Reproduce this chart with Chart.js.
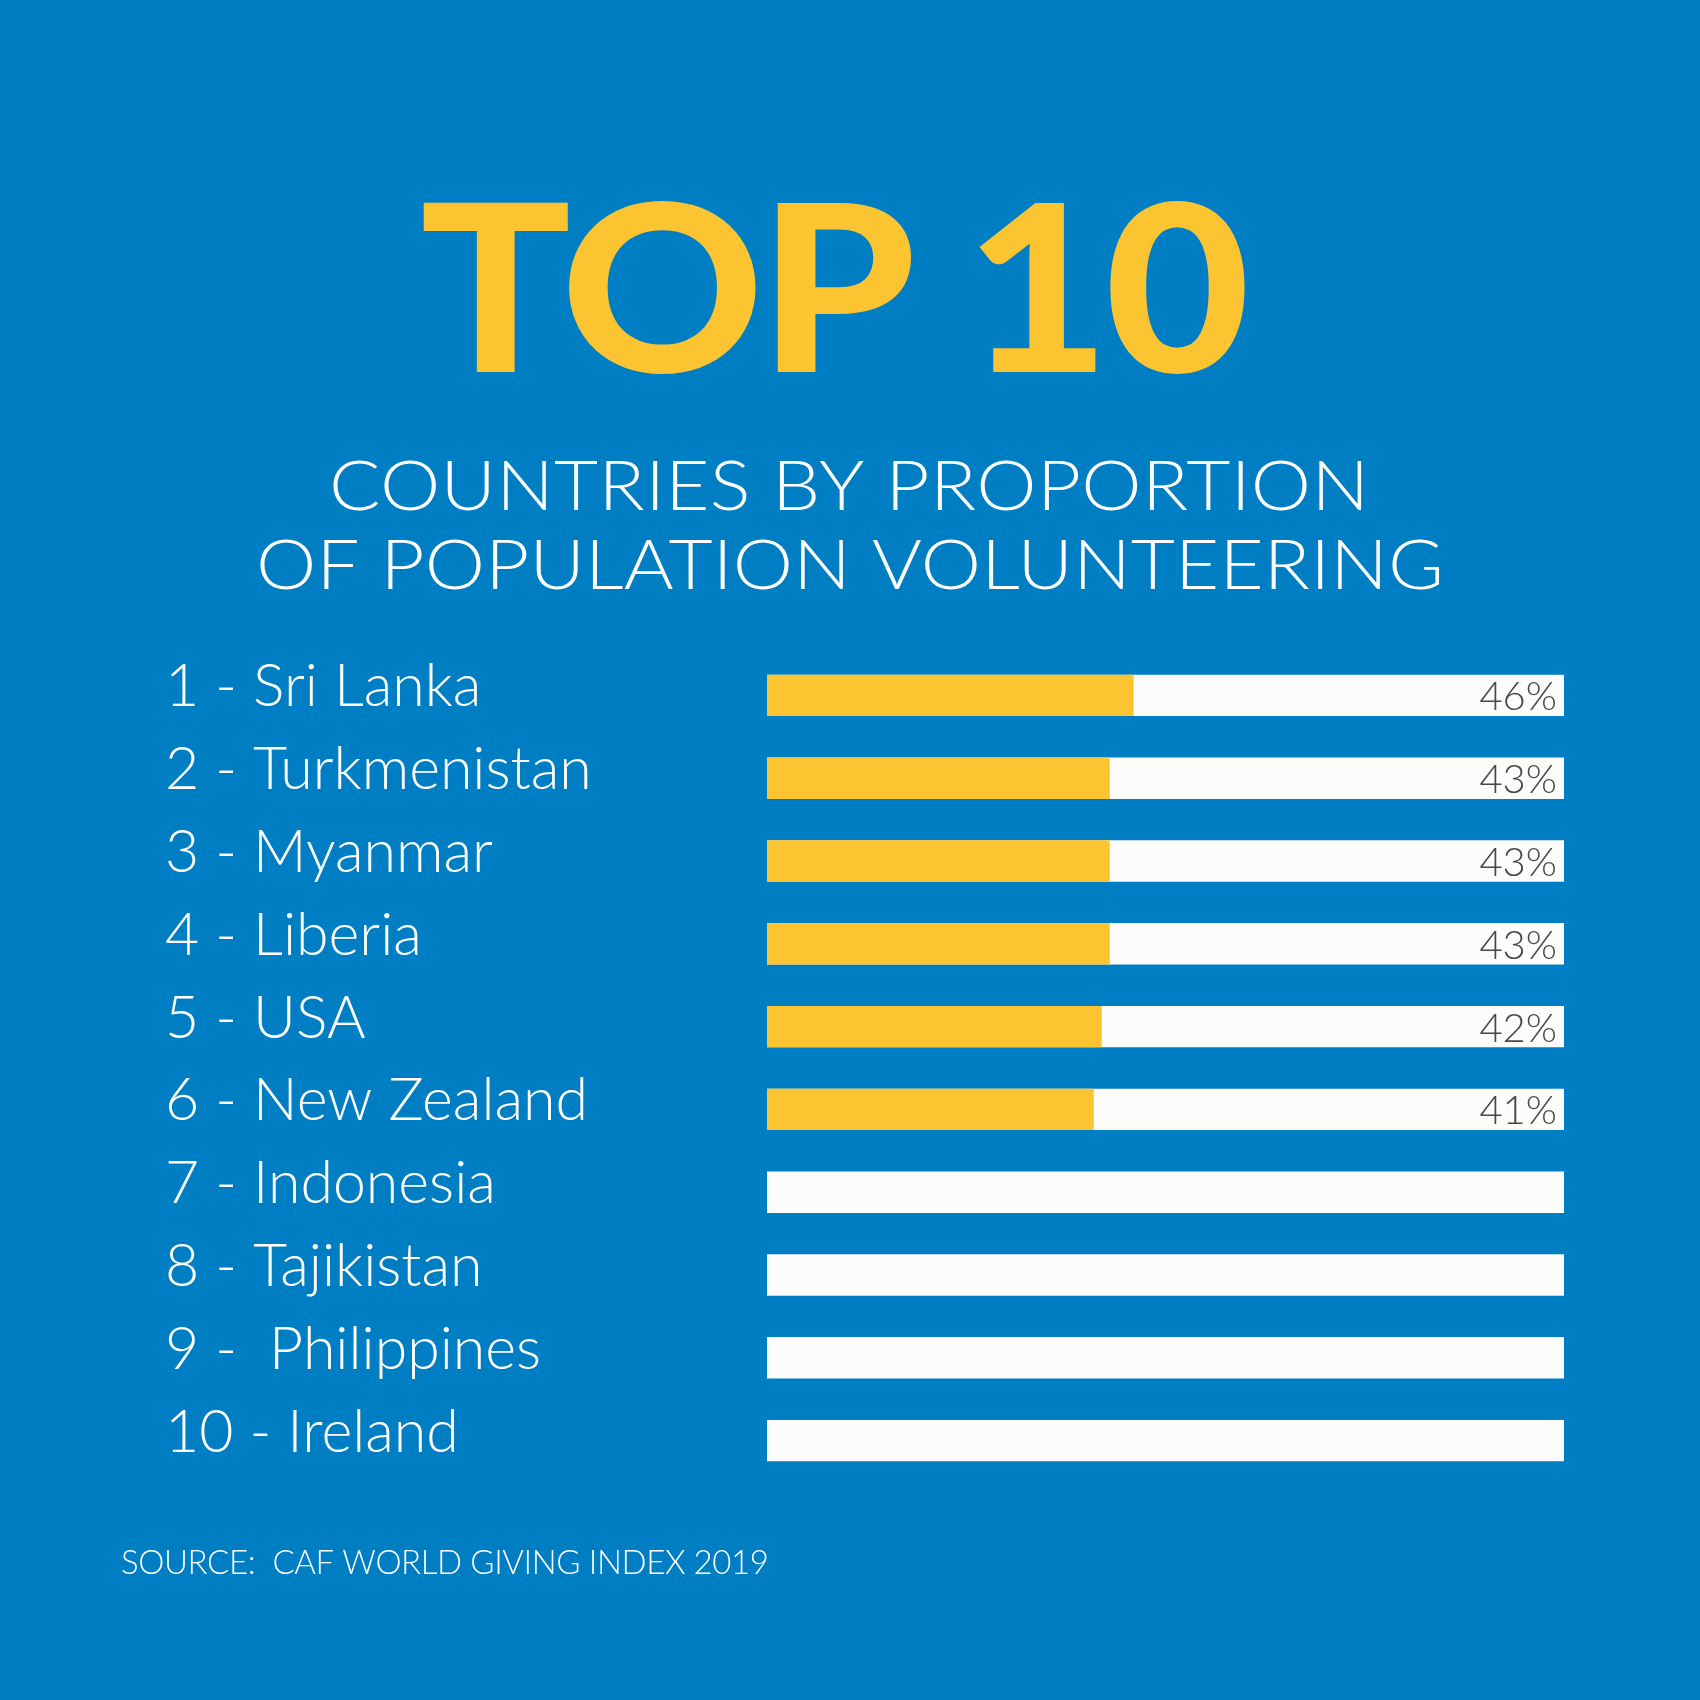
<!DOCTYPE html>
<html>
<head>
<meta charset="utf-8">
<script src="https://cdn.jsdelivr.net/npm/chart.js@4/dist/chart.umd.min.js"></script>
<style>
    html, body { margin: 0; padding: 0; background: #007ec3; }
    #wrap { width: 1700px; height: 1700px; }
</style>
</head>
<body>
<div id="wrap"><canvas id="chart" width="1700" height="1700"></canvas></div>
<script>
// Data read from the infographic
const countries = [
    '1 - Sri Lanka', '2 - Turkmenistan', '3 - Myanmar', '4 - Liberia', '5 - USA',
    '6 - New Zealand', '7 - Indonesia', '8 - Tajikistan', '9 -  Philippines', '10 - Ireland'
];
const volunteering = [46, 43, 43, 43, 42, 41, null, null, null, null];
const trackValues = [100, 100, 100, 100, 100, 100, 100, 100, 100, 100];
const valueLabels = ['46%', '43%', '43%', '43%', '42%', '41%', '', '', '', ''];

const BLUE = '#007ec3';
const YELLOW = '#fcc431';
const TRACK = '#fcfcfa';

// Draw a line of text fitted to a given ink width (stretch + letter spacing)
function drawSpaced(ctx, text, left, baseline, font, width, color, stretch) {
    ctx.save();
    ctx.font = font;
    ctx.letterSpacing = '0px';
    const w = ctx.measureText(text).width;
    const ls = (width / stretch - w) / (text.length - 1);
    ctx.letterSpacing = ls + 'px';
    ctx.fillStyle = color;
    ctx.textAlign = 'left';
    ctx.textBaseline = 'alphabetic';
    ctx.translate(left, baseline);
    ctx.scale(stretch, 1);
    ctx.fillText(text, 0, 0);
    ctx.restore();
}

const background = {
    id: 'background',
    beforeDraw(chart) {
        const ctx = chart.ctx;
        ctx.save();
        ctx.fillStyle = BLUE;
        ctx.fillRect(0, 0, chart.width, chart.height);
        ctx.restore();
    }
};

const headings = {
    id: 'headings',
    afterDraw(chart) {
        const ctx = chart.ctx;
        drawSpaced(ctx, 'TOP 10', 420, 372, '900 232px Lato', 830, YELLOW, 1.08);
        drawSpaced(ctx, 'COUNTRIES BY PROPORTION', 329, 510, '300 68px Lato', 1040, '#ffffff', 1.12);
        drawSpaced(ctx, 'OF POPULATION VOLUNTEERING', 256, 589, '300 68px Lato', 1188, '#ffffff', 1.12);
        drawSpaced(ctx, 'SOURCE:  CAF WORLD GIVING INDEX 2019', 121, 1574, '300 33px Lato', 648, '#ffffff', 1.0);
    }
};

const valueText = {
    id: 'valueText',
    afterDatasetsDraw(chart) {
        const ctx = chart.ctx;
        const meta = chart.getDatasetMeta(0);
        ctx.save();
        ctx.font = '300 40px Lato';
        ctx.fillStyle = '#474747';
        ctx.textAlign = 'right';
        ctx.textBaseline = 'middle';
        meta.data.forEach((bar, i) => {
            if (valueLabels[i]) {
                ctx.fillText(valueLabels[i], chart.chartArea.right - 7, bar.y + 2);
            }
        });
        ctx.restore();
    }
};

new Chart(document.getElementById('chart'), {
    type: 'bar',
    data: {
        labels: countries,
        datasets: [{
            label: 'Volunteering',
            data: volunteering,
            backgroundColor: YELLOW,
            grouped: false,
            order: 0
        }, {
            label: 'Track',
            data: trackValues,
            backgroundColor: TRACK,
            grouped: false,
            order: 1
        }]
    },
    options: {
        indexAxis: 'y',
        responsive: false,
        animation: false,
        devicePixelRatio: 1,
        categoryPercentage: 1,
        barPercentage: 0.5,
        layout: {
            padding: { left: 165, right: 136, top: 654, bottom: 218 }
        },
        scales: {
            x: {
                display: false,
                min: 0,
                max: 100
            },
            y: {
                grid: { display: false },
                border: { display: false },
                afterFit(scale) {
                    scale.width = 767 - 165;
                },
                ticks: {
                    crossAlign: 'far',
                    labelOffset: -8,
                    color: '#ffffff',
                    font: { family: 'Lato', weight: '300', size: 59 }
                }
            }
        },
        plugins: {
            legend: { display: false },
            tooltip: { enabled: false }
        }
    },
    plugins: [background, headings, valueText]
});
</script>
</body>
</html>
